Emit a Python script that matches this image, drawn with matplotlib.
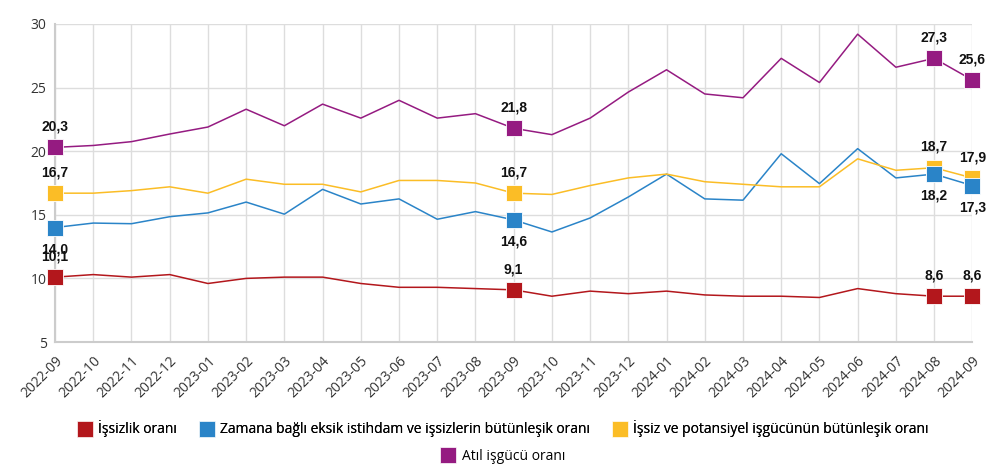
import matplotlib.pyplot as plt
from matplotlib.lines import Line2D

months = ['2022-09', '2022-10', '2022-11', '2022-12', '2023-01', '2023-02', '2023-03',
          '2023-04', '2023-05', '2023-06', '2023-07', '2023-08', '2023-09', '2023-10',
          '2023-11', '2023-12', '2024-01', '2024-02', '2024-03', '2024-04', '2024-05',
          '2024-06', '2024-07', '2024-08', '2024-09']

issizlik = [10.1, 10.3, 10.1, 10.3, 9.6, 10.0, 10.1, 10.1, 9.6, 9.3, 9.3, 9.2, 9.1,
            8.6, 9.0, 8.8, 9.0, 8.7, 8.6, 8.6, 8.5, 9.2, 8.8, 8.6, 8.6]
zamana = [14.0, 14.35, 14.3, 14.85, 15.15, 16.0, 15.05, 17.0, 15.85, 16.25, 14.65, 15.25, 14.6,
          13.65, 14.75, 16.4, 18.2, 16.25, 16.15, 19.8, 17.45, 20.2, 17.9, 18.2, 17.3]
potansiyel = [16.7, 16.7, 16.9, 17.2, 16.7, 17.8, 17.4, 17.4, 16.8, 17.7, 17.7, 17.5, 16.7,
              16.6, 17.3, 17.9, 18.2, 17.6, 17.4, 17.2, 17.2, 19.4, 18.5, 18.7, 17.9]
atil = [20.3, 20.45, 20.75, 21.35, 21.9, 23.3, 22.0, 23.7, 22.6, 24.0, 22.6, 22.95, 21.8,
        21.3, 22.6, 24.65, 26.4, 24.5, 24.2, 27.3, 25.4, 29.2, 26.6, 27.3, 25.6]

labels = ['İşsizlik oranı', 'Zamana bağlı eksik istihdam ve işsizlerin bütünleşik oranı',
          'İşsiz ve potansiyel işgücünün bütünleşik oranı', 'Atıl işgücü oranı']
colors = ['#b3171c', '#2a84c8', '#fbbd26', '#951b81']
marked = [0, 12, 23, 24]
# label above (+) or below (-) the marker, in points
offsets = [15, -15.5, 15, 15]
# blue markers sit on top of the yellow ones in the original
mzorder = [4, 6, 5, 4]

plt.rcParams['font.family'] = ['Open Sans', 'DejaVu Sans']

fig = plt.figure(figsize=(10.08, 4.76), dpi=100)
ax = fig.add_axes([0.0546, 0.2815, 0.9100, 0.6681])

x = list(range(len(months)))
for vals, col, off, mz in zip([issizlik, zamana, potansiyel, atil], colors, offsets, mzorder):
    ax.plot(x, vals, color=col, lw=1.1, zorder=3)
    mx = [x[i] for i in marked]
    my = [vals[i] for i in marked]
    ax.plot(mx, my, 's', color=col, ms=11.5, mec='white', mew=0.6, zorder=mz,
            clip_on=False)
    for i in marked:
        ax.annotate(f'{vals[i]:.1f}'.replace('.', ','), (x[i], vals[i]),
                    xytext=(0, off), textcoords='offset points', ha='center',
                    va='center', fontsize=10, fontweight='bold',
                    family='Liberation Sans', color='#111111', zorder=7)

ax.set_xlim(0, len(months) - 1)
ax.set_ylim(5, 30)
ax.set_yticks([5, 10, 15, 20, 25, 30])
ax.set_xticks(x)
ax.set_xticklabels(months, rotation=45, ha='right', rotation_mode='anchor')
ax.tick_params(axis='both', labelsize=10, colors='#333333', length=0, pad=6)
ax.tick_params(axis='x', pad=8)
ax.grid(True, color='#dddddd', lw=1)
ax.set_axisbelow(True)
for s in ['top', 'right']:
    ax.spines[s].set_visible(False)
ax.spines['left'].set_color('#cccccc')
ax.spines['left'].set_linewidth(1.5)
ax.spines['bottom'].set_color('#cccccc')
ax.spines['bottom'].set_linewidth(1.5)

handles = [Line2D([], [], marker='s', ls='none', color=c, ms=11, mec='white', mew=0.5)
           for c in colors]
leg1 = fig.legend(handles[:3], labels[:3], loc='center', bbox_to_anchor=(0.5, 0.099), ncol=3,
                  frameon=False, fontsize=10, handlelength=0.8, handletextpad=0.6,
                  columnspacing=1.7)
fig.add_artist(leg1)
fig.legend(handles[3:], labels[3:], loc='center', bbox_to_anchor=(0.5, 0.042), ncol=1,
           frameon=False, fontsize=10, handlelength=0.8, handletextpad=0.6)

fig.savefig('out.png', dpi=100)
